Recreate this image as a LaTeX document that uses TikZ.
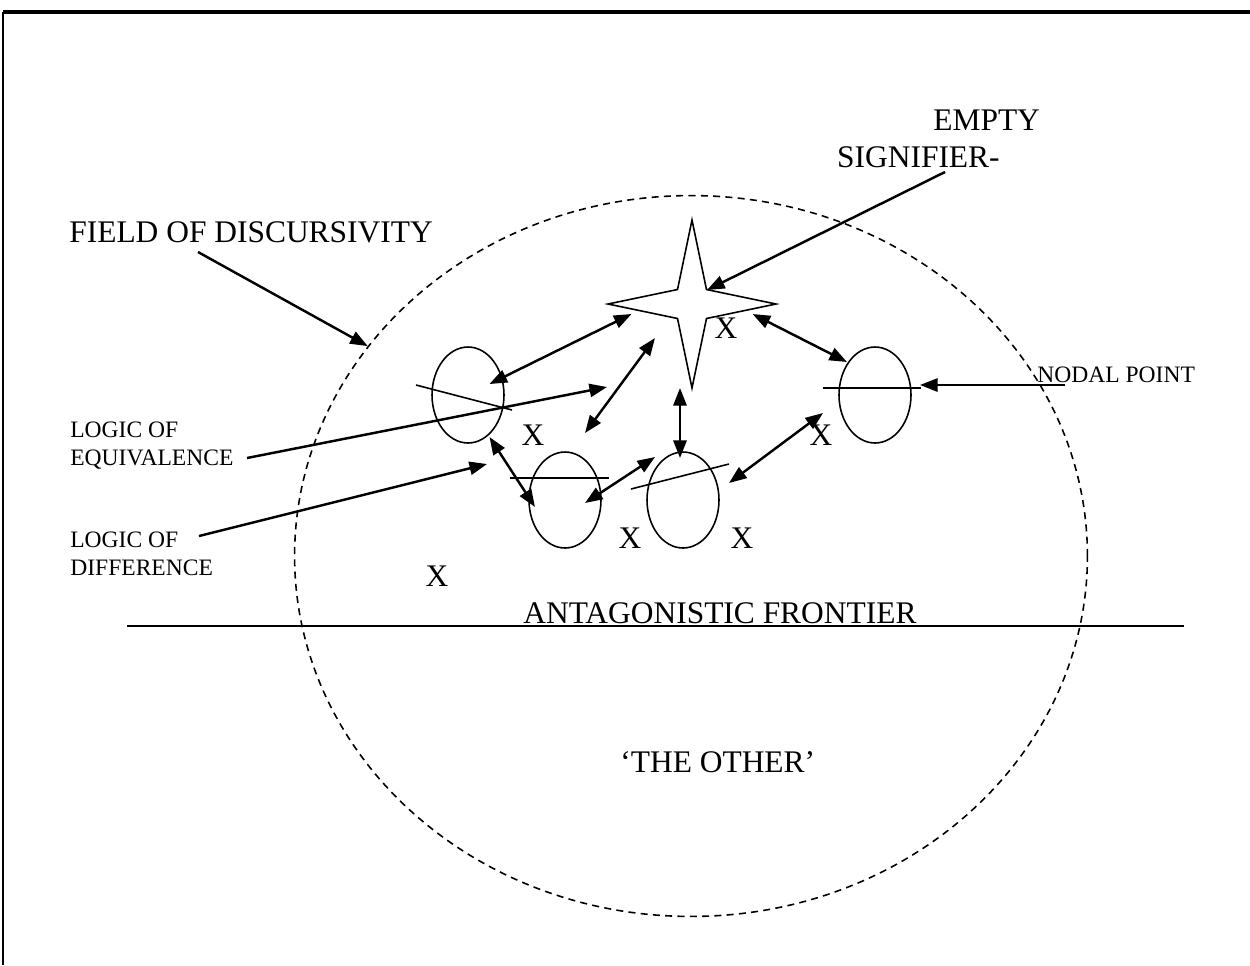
\documentclass[tikz,border=0pt]{standalone}
\usepackage{fontspec}
\setmainfont{Liberation Serif}
\usetikzlibrary{arrows.meta, shapes.geometric, positioning}

\begin{document}
\begin{tikzpicture}[x=0.02cm, y=-0.02cm,
    lbl/.style={font=\fontsize{17.9}{21}\selectfont, inner sep=0pt},
    lblsm/.style={font=\fontsize{13.4}{15.9}\selectfont, inner sep=0pt, align=left},
    oval/.style={draw, ellipse, line width=0.9pt, minimum width=1.44cm, minimum height=1.92cm, inner sep=0pt},
    arr/.style={line width=1.4pt, -{Triangle[length=10pt,width=7.5pt]}},
    dbl/.style={line width=1.4pt, {Triangle[length=10pt,width=7.5pt]}-{Triangle[length=10pt,width=7.5pt]}}]

            \useasboundingbox (0,0) rectangle (1250,965);

            % Khung
            \draw[line width=2pt] (3,12) -- (1250,12);
            \draw[line width=0.7pt] (3,12) -- (3,965);

            % Vùng diễn ngôn (elip nét đứt)
            \node[draw, ellipse, dash pattern=on 4pt off 3pt, line width=0.9pt, minimum width=15.86cm, minimum height=14.42cm, inner sep=0pt] (field) at (691,556) {};

            % Đường biên đối kháng
            \draw[line width=1.3pt] (127,626) -- (1184,626);

            % Ngôi sao và các hình bầu dục
            \node[draw, star, star points=4, star point ratio=4.1, minimum size=3.36cm, inner sep=0pt, line width=0.9pt] (star) at (692,304) {};
            \node[oval] (e1) at (468,395) {}; % trên trái
            \node[oval] (e2) at (565,500) {}; % dưới trái
            \node[oval] (e3) at (683,500) {}; % dưới giữa
            \node[oval] (e4) at (875,395) {}; % phải

            % Đường cắt qua các hình bầu dục
            \draw[line width=0.9pt] (416,385) -- (512,410);
            \draw[line width=0.9pt] (510,478) -- (609,478);
            \draw[line width=0.9pt] (631,489) -- (729,464);
            \draw[line width=0.9pt] (823,388) -- (921,388);

            % Nhãn
            \node[lbl, anchor=base west] (fieldlbl) at (69,242) {FIELD OF DISCURSIVITY};
            \node[lbl, anchor=base west] (empty) at (933,130) {EMPTY};
            \node[lbl, anchor=base east] (signif) at (1000,167) {SIGNIFIER-};
            \node[lblsm, anchor=base west] (equiv) at (70,465) {LOGIC OF\\EQUIVALENCE};
            \node[lblsm, anchor=base west] (diff) at (70,575) {LOGIC OF\\DIFFERENCE};
            \node[lblsm, anchor=base west] (nodal) at (1037,382) {NODAL POINT};
            \node[lbl, anchor=base west] (front) at (523,623) {ANTAGONISTIC FRONTIER};
            \node[lbl, anchor=base west] (other) at (620,772) {‘THE OTHER’};

            % Các dấu X
            \node[lbl] (x1) at (726,328) {X};
            \node[lbl] (x2) at (533,435) {X};
            \node[lbl] (x3) at (821,435) {X};
            \node[lbl] (x4) at (630,538) {X};
            \node[lbl] (x5) at (742,538) {X};
            \node[lbl] (x6) at (437,576) {X};

            % Điểm đầu/cuối mũi tên
            \coordinate (fs) at (198,252);
            \coordinate (es) at (945,172);
            \coordinate (ee) at (707,290);
            \coordinate (ns) at (1065,385);
            \coordinate (ne) at (920,385);
            \coordinate (qs) at (247,458);
            \coordinate (qe) at (607,387);
            \coordinate (ds) at (199,536);
            \coordinate (de) at (487,464);

            % Mũi tên đơn
            \draw[arr] (fs) -- (field.147);
            \draw[arr] (es) -- (ee);
            \draw[arr] (ns) -- (ne);
            \draw[arr] (qs) -- (qe);
            \draw[arr] (ds) -- (de);

            % Mũi tên hai chiều
            \coordinate (a1) at (489.5,384);  \coordinate (b1) at (631.5,314);
            \coordinate (a2) at (752.6,314);  \coordinate (b2) at (847,362);
            \coordinate (a3) at (585,433);    \coordinate (b3) at (655,338);
            \coordinate (a4) at (680,388);    \coordinate (b4) at (680,458);
            \coordinate (a5) at (489.5,437);  \coordinate (b5) at (535,507);
            \coordinate (a6) at (585,503);    \coordinate (b6) at (655,457);
            \coordinate (a7) at (729,483);    \coordinate (b7) at (823,413);
            \foreach \i in {1,...,7}
                \draw[dbl] (a\i) -- (b\i);

\end{tikzpicture}
\end{document}
